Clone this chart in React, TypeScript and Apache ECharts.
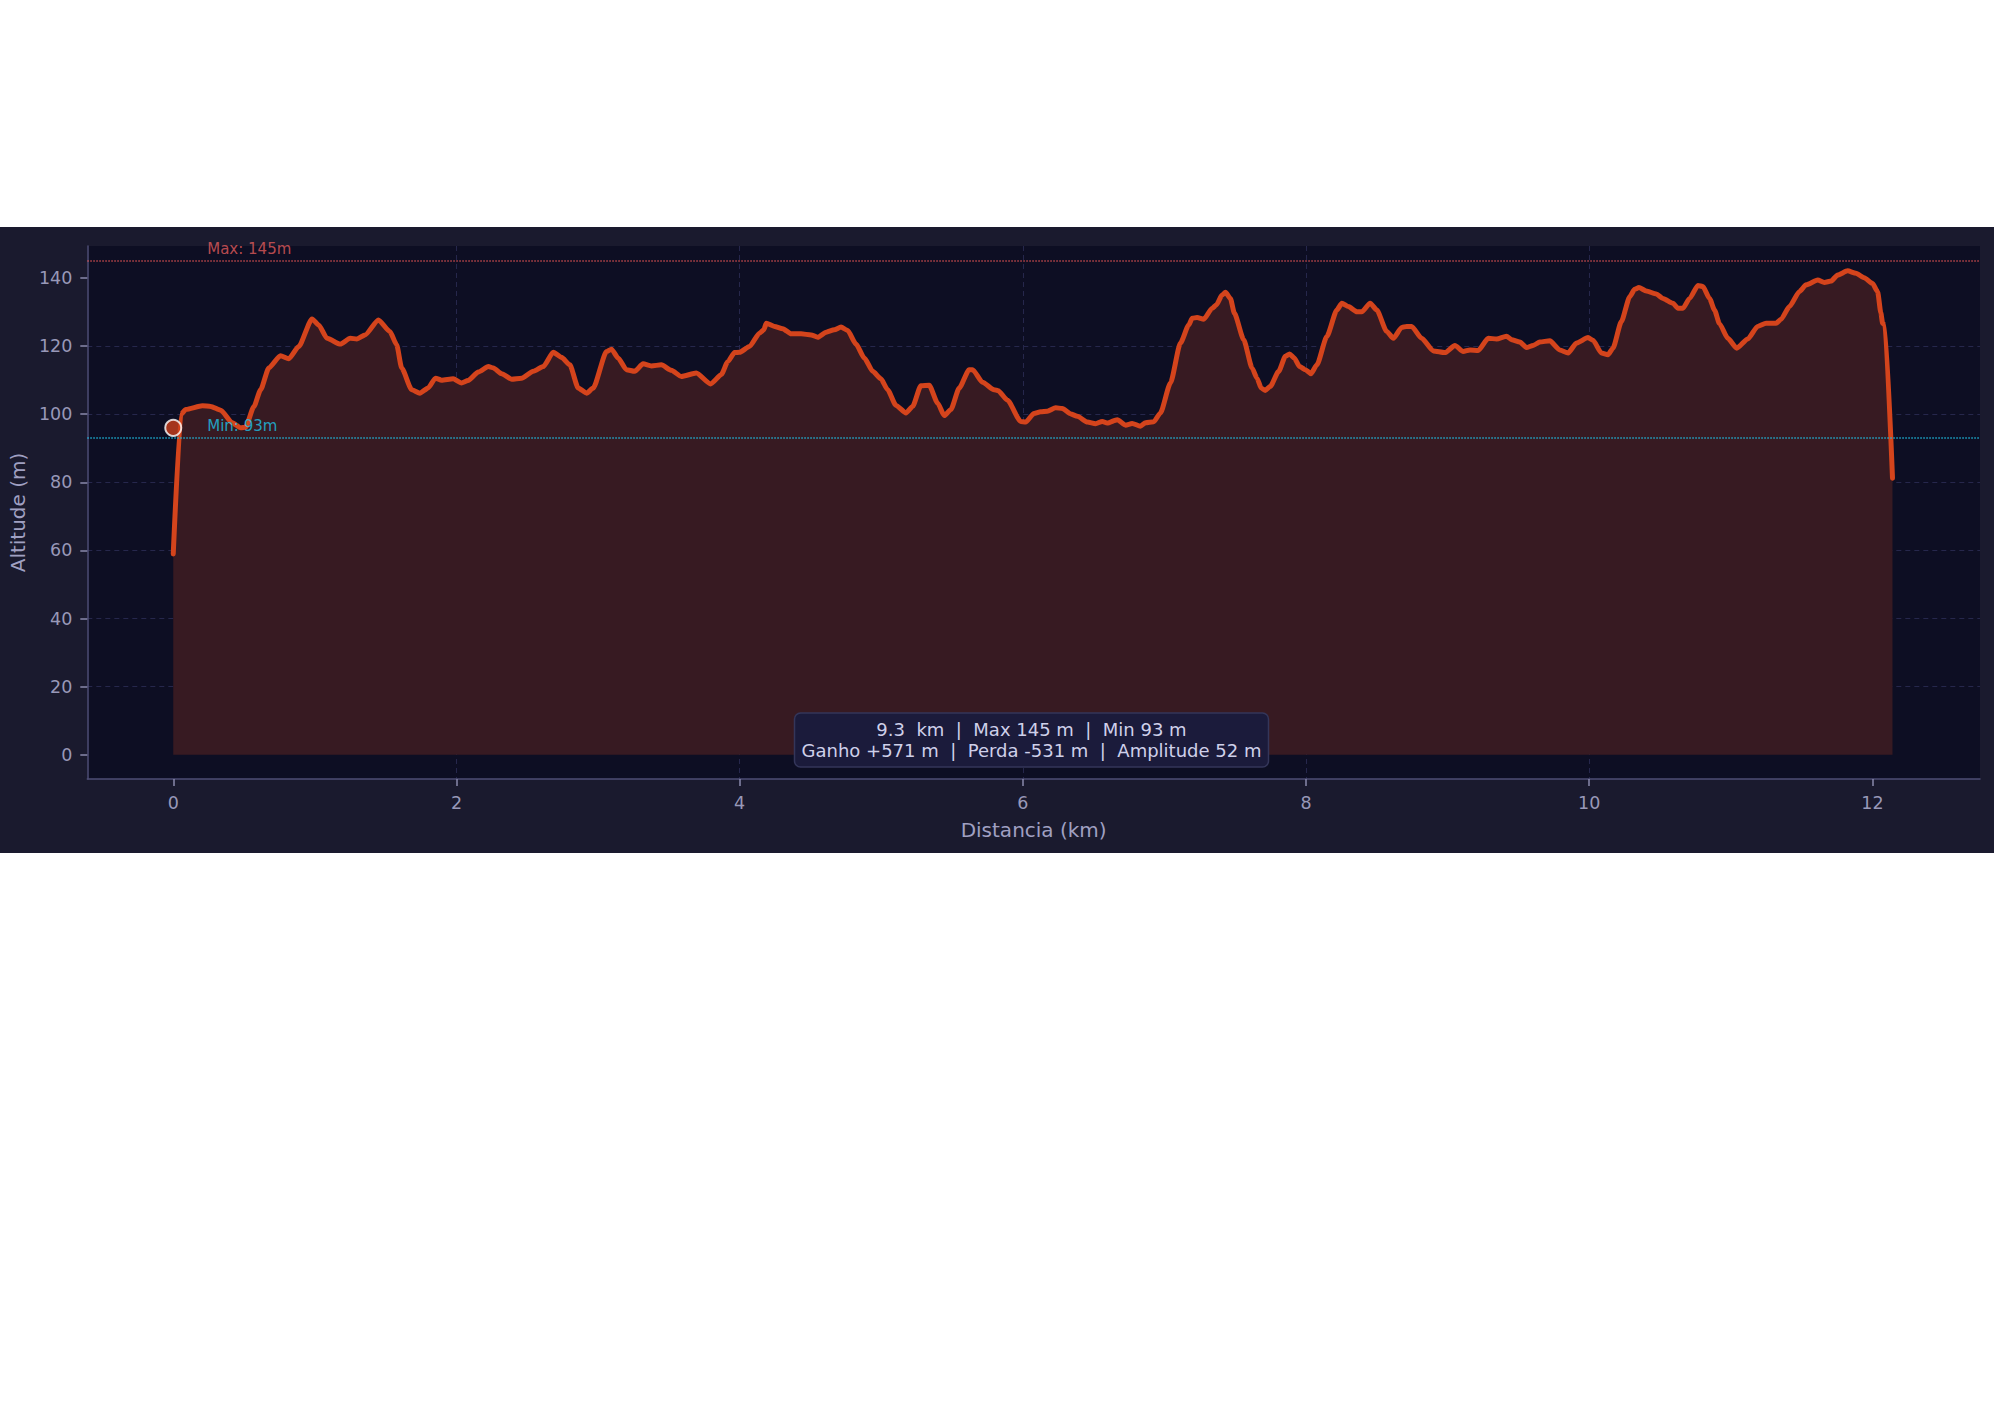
import React, { useEffect, useRef } from "react";
import * as echarts from "echarts";

// Distance (km) along the track
const distKm = [
  0, 0.054, 0.089, 0.206, 0.265, 0.335, 0.417, 0.476, 0.511, 0.57, 0.617, 0.675, 0.757, 0.816, 0.886,
  0.98, 1.027, 1.086, 1.18, 1.25, 1.297, 1.355, 1.449, 1.53, 1.578, 1.613, 1.684, 1.742, 1.8, 1.852,
  1.895, 1.977, 2.035, 2.082, 2.155, 2.226, 2.261, 2.319, 2.39, 2.46, 2.543, 2.613, 2.684, 2.742, 2.801,
  2.86, 2.919, 2.966, 3.06, 3.095, 3.142, 3.2, 3.259, 3.318, 3.377, 3.447, 3.518, 3.588, 3.694, 3.795,
  3.87, 3.917, 3.964, 4.0, 4.07, 4.14, 4.171, 4.188, 4.246, 4.305, 4.364, 4.434, 4.505, 4.552, 4.611,
  4.669, 4.716, 4.763, 4.822, 4.881, 4.94, 4.998, 5.045, 5.104, 5.175, 5.222, 5.28, 5.339, 5.398, 5.445,
  5.492, 5.551, 5.621, 5.645, 5.715, 5.797, 5.826, 5.892, 5.985, 6.02, 6.079, 6.126, 6.173, 6.232, 6.279,
  6.338, 6.385, 6.456, 6.514, 6.561, 6.596, 6.667, 6.725, 6.772, 6.831, 6.866, 6.925, 6.972, 7.043, 7.113,
  7.172, 7.196, 7.231, 7.278, 7.337, 7.367, 7.407, 7.431, 7.466, 7.494, 7.56, 7.619, 7.654, 7.683, 7.713,
  7.748, 7.807, 7.854, 7.884, 7.917, 7.955, 7.995, 8.035, 8.077, 8.147, 8.218, 8.253, 8.3, 8.359, 8.394,
  8.453, 8.5, 8.57, 8.617, 8.676, 8.711, 8.746, 8.817, 8.899, 8.981, 9.052, 9.11, 9.158, 9.216, 9.287,
  9.346, 9.416, 9.452, 9.51, 9.557, 9.604, 9.651, 9.722, 9.792, 9.851, 9.91, 9.992, 10.027, 10.086, 10.133,
  10.168, 10.227, 10.286, 10.321, 10.351, 10.403, 10.474, 10.521, 10.591, 10.627, 10.662, 10.709, 10.768,
  10.803, 10.85, 10.885, 10.92, 10.979, 11.042, 11.12, 11.19, 11.249, 11.32, 11.355, 11.414, 11.484,
  11.532, 11.614, 11.661, 11.708, 11.755, 11.825, 11.884, 11.942, 12.001, 12.037, 12.06, 12.072, 12.088,
  12.142,
];

// Altitude (m) at each distance
const altM = [
  59, 100, 101.4, 102.5, 102.3, 101.2, 97.5, 96.0, 96.2, 102.3, 107.2, 113.6, 117.2, 116.3, 119.9,
  128.0, 126.2, 122.3, 120.6, 122.3, 122.1, 123.3, 127.7, 124.3, 120.4, 113.6, 107.2, 106.2, 107.7, 110.6,
  110.0, 110.4, 109.2, 109.9, 112.4, 114.0, 113.6, 111.9, 110.3, 110.6, 112.6, 114.0, 118.2, 116.7, 114.5,
  107.7, 106.2, 107.7, 118.4, 119.1, 116.5, 113.1, 112.6, 114.8, 114.2, 114.5, 112.9, 111.1, 112.1, 108.9,
  111.6, 115.5, 118.1, 118.2, 119.9, 123.8, 124.8, 126.7, 125.8, 125.1, 123.6, 123.6, 123.3, 122.6, 124.1,
  124.8, 125.6, 124.6, 120.6, 116.5, 112.6, 110.4, 107.2, 102.6, 100.4, 102.3, 108.4, 108.5, 103.3, 99.6,
  101.4, 107.7, 113.1, 113.1, 109.4, 107.2, 106.9, 104.1, 97.9, 97.7, 100.2, 100.7, 100.9, 101.9, 101.7,
  100.1, 99.4, 97.7, 97.2, 97.9, 97.4, 98.4, 96.8, 97.3, 96.5, 97.5, 97.8, 100.4, 109.2, 120.9,
  126.2, 128.2, 128.4, 127.9, 131.1, 132.1, 135.0, 135.8, 134.0, 129.7, 121.9, 113.6, 110.6, 107.7, 107.0,
  108.2, 112.6, 117.0, 117.7, 116.5, 114.0, 113.1, 111.9, 114.5, 122.8, 130.6, 132.6, 131.6, 130.1, 130.1,
  132.6, 130.6, 124.3, 122.3, 125.5, 125.8, 125.8, 122.3, 118.6, 118.1, 120.2, 118.4, 118.9, 118.7, 122.3,
  122.1, 122.9, 121.9, 121.2, 119.6, 120.2, 121.2, 121.6, 118.9, 118.0, 120.9, 122.5, 121.7, 118.0, 117.5,
  119.4, 127.2, 134.5, 136.7, 137.2, 136.2, 135.3, 134.0, 132.6, 131.1, 131.1, 134.0, 137.8,
  137.5, 134.0, 130.6, 126.6, 122.3, 119.4, 122.1, 125.8, 126.7, 126.7, 127.9, 131.6, 136.0,
  138.0, 139.4, 138.7, 139.1, 140.9, 142.1, 141.4, 140.1, 138.4, 136.0, 129.7, 126.7, 126.2,
  81.2,
];

const xTicks = [0, 2, 4, 6, 8, 10, 12];
const yTicks = [0, 20, 40, 60, 80, 100, 120, 140];
const xRange = [-0.607, 12.76];
const yRange = [-7.1, 149.4];

const maxAlt = 145;
const minAlt = 93;
const maxLabel = "Max: 145m";
const minLabel = "Min: 93m";
const labelKm = 0.24;
const startPoint = [0, 96];

const xTitle = "Distancia (km)";
const yTitle = "Altitude (m)";
const summaryLines = [
  "9.3  km  |  Max 145 m  |  Min 93 m",
  "Ganho +571 m  |  Perda -531 m  |  Amplitude 52 m",
];

const FONT = "DejaVu Sans";

export default function App() {
  const ref = useRef<HTMLDivElement>(null);

  useEffect(() => {
    if (!ref.current) return;
    const chart = echarts.init(ref.current, null, { renderer: "svg" });

    const profile = distKm.map((d, i) => [d, altM[i]]);

    const gridLeft = 83;
    const gridTop = 19;
    const gridW = 1897;
    const gridH = 533;
    const boxW = 474;
    const boxH = 54;
    const boxCx = gridLeft + gridW / 2;
    const boxCy = 513;

    const axisCommon = {
      axisLine: { show: true, onZero: false, lineStyle: { color: "#4e4e76", width: 1.5 } },
      axisTick: { show: true, length: 7, lineStyle: { color: "#8a8aac", width: 1.5 } },
      splitLine: {
        show: true,
        showMinLine: false,
        showMaxLine: false,
        lineStyle: { color: "#26274c", type: [5, 4], width: 1 },
      },
      nameLocation: "middle",
      nameTextStyle: { color: "#a0a0c2", fontSize: 20, fontFamily: FONT },
    };

    chart.setOption({
      animation: false,
      backgroundColor: "#1a1a2e",
      grid: {
        left: gridLeft,
        top: gridTop,
        width: gridW,
        height: gridH,
        show: true,
        backgroundColor: "#0d0e23",
        borderWidth: 0,
      },
      xAxis: {
        type: "value",
        min: xRange[0],
        max: xRange[1],
        splitNumber: 7,
        name: xTitle,
        nameGap: 41,
        ...axisCommon,
        axisTick: { ...axisCommon.axisTick, customValues: xTicks },
        axisLabel: {
          customValues: xTicks,
          color: "#9898b8",
          fontSize: 17.5,
          fontFamily: FONT,
          margin: 15,
        },
      },
      yAxis: {
        type: "value",
        min: yRange[0],
        max: yRange[1],
        splitNumber: 8,
        name: yTitle,
        nameGap: 58,
        ...axisCommon,
        axisTick: { ...axisCommon.axisTick, customValues: yTicks },
        axisLabel: {
          customValues: yTicks,
          color: "#9898b8",
          fontSize: 17.5,
          fontFamily: FONT,
          margin: 15,
        },
      },
      series: [
        {
          type: "line",
          data: profile,
          showSymbol: false,
          smooth: 0.2,
          smoothMonotone: "x",
          lineStyle: { color: "#d4441c", width: 5, cap: "round", join: "round" },
          areaStyle: { color: "#371a22", opacity: 1, origin: 0 },
          z: 3,
          markLine: {
            silent: true,
            symbol: ["none", "none"],
            label: { show: false },
            data: [
              { yAxis: maxAlt, lineStyle: { color: "rgba(222,82,82,0.85)", type: "dotted", width: 1.5 } },
              { yAxis: minAlt, lineStyle: { color: "rgba(30,190,225,0.9)", type: "dotted", width: 1.5 } },
            ],
          },
        },
        {
          type: "scatter",
          data: [
            { value: [labelKm, maxAlt], label: { formatter: maxLabel, color: "#e25c5c" } },
            { value: [labelKm, minAlt], label: { formatter: minLabel, color: "#1ec4e8" } },
          ],
          symbolSize: 0,
          silent: true,
          label: {
            show: true,
            position: "right",
            distance: 0,
            offset: [0, -12],
            fontSize: 15,
            fontFamily: FONT,
          },
          z: 4,
        },
        {
          type: "scatter",
          data: [startPoint],
          symbol: "circle",
          symbolSize: 16,
          itemStyle: { color: "#cc401c", borderColor: "#ffffff", borderWidth: 2 },
          silent: true,
          z: 5,
        },
      ],
      graphic: [
        {
          type: "rect",
          z: 100,
          shape: { x: boxCx - boxW / 2, y: boxCy - boxH / 2, width: boxW, height: boxH, r: 6 },
          style: { fill: "#1b1b3b", stroke: "#34365a", lineWidth: 1.5, opacity: 1 },
        },
        {
          type: "text",
          z: 101,
          x: boxCx,
          y: boxCy,
          style: {
            text: summaryLines.join("\n"),
            align: "center",
            verticalAlign: "middle",
            fontSize: 18,
            lineHeight: 21,
            fontFamily: FONT,
            fill: "#cfd0ea",
          },
        },
      ],
    });

    return () => chart.dispose();
  }, []);

  return (
    <div style={{ position: "absolute", left: 0, top: 0, width: 2000, height: 1414, background: "#ffffff" }}>
      <div ref={ref} style={{ position: "absolute", left: 0, top: 227, width: 1994, height: 626 }} />
    </div>
  );
}
